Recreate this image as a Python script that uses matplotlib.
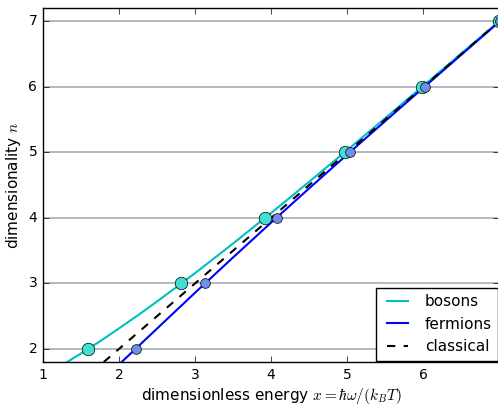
import matplotlib
matplotlib.use("Agg")
import matplotlib.pyplot as plt

# curve samples (x = dimensionless energy, n = dimensionality)
boson_x = [1.3, 1.5, 1.75, 2.0, 2.25, 2.5, 2.75, 3.0, 3.5, 4.0, 4.5, 5.0, 5.5, 6.0, 6.5, 7.0]
boson_n = [1.787, 1.931, 2.116, 2.313, 2.515, 2.724, 2.939, 3.157, 3.609, 4.075, 4.551, 5.034, 5.523, 6.015, 6.510, 7.006]

fermion_x = [1.8, 2.0, 2.2, 2.5, 3.0, 3.5, 4.0, 4.5, 5.0, 5.5, 6.0, 6.5, 7.0]
fermion_n = [1.545, 1.762, 1.981, 2.310, 2.858, 3.397, 3.928, 4.451, 4.967, 5.478, 5.985, 6.490, 6.994]

classical_x = [1.8, 7.0]
classical_n = [1.8, 7.0]

# marked solutions for integer dimensionality
dims = [2, 3, 4, 5, 6, 7]
boson_pts = [1.594, 2.821, 3.921, 4.965, 5.985, 6.994]
fermion_pts = [2.218, 3.135, 4.077, 5.035, 6.015, 7.006]

plt.style.use("classic")
fig = plt.figure(figsize=(4.98, 4.05), dpi=100, facecolor="white")
ax = fig.add_axes([0.086, 0.106, 0.917, 0.874])

ax.plot(boson_x, boson_n, color="c", lw=1.5, label="bosons")
ax.plot(fermion_x, fermion_n, color="b", lw=1.5, label="fermions")
ax.plot(classical_x, classical_n, "k--", lw=1.5, label="classical")

ax.plot(boson_pts, dims, "o", color="turquoise", mec="k", ms=9, clip_on=False)
ax.plot(fermion_pts, dims, "o", color="#6f8fe6", mec="k", ms=7, clip_on=False)

ax.set_xlim(1, 7)
ax.set_ylim(1.8, 7.2)
ax.set_xticks([1, 2, 3, 4, 5, 6])
ax.set_yticks([2, 3, 4, 5, 6, 7])
ax.yaxis.grid(True, color="#a4adb9", linestyle="-", lw=1.2)
ax.set_axisbelow(True)
ax.tick_params(labelsize=10)

ax.set_xlabel(r"dimensionless energy $x = \hbar\omega/(k_BT)$", fontsize=11, labelpad=3)
ax.set_ylabel(r"dimensionality $n$", fontsize=11, labelpad=4)

ax.legend(loc="lower right", fontsize=11, handlelength=2.0, borderaxespad=0.1)

fig.savefig("out.png", dpi=100, facecolor="white")
